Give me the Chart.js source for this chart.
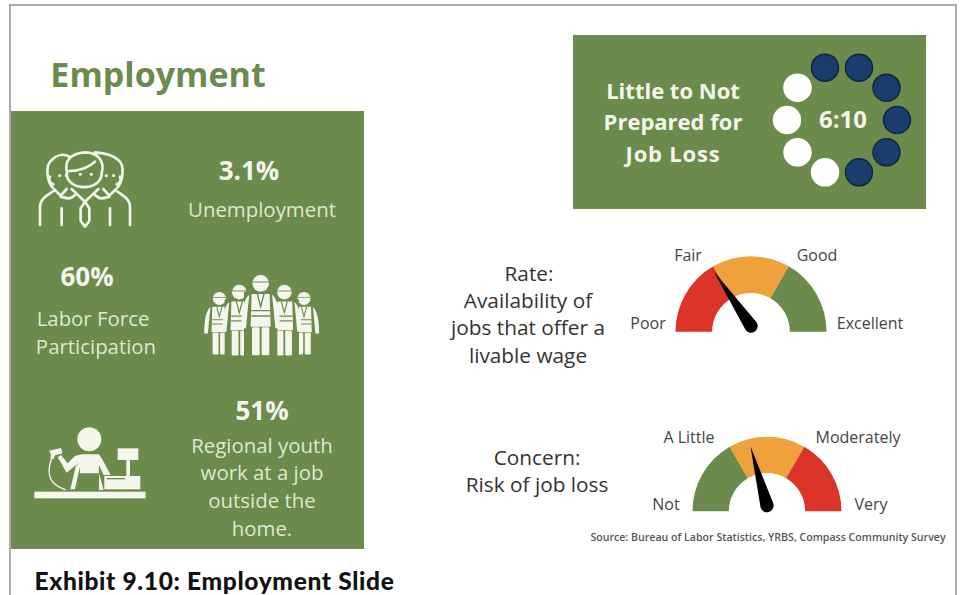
<!DOCTYPE html>
<html>
<head>
<meta charset="utf-8">
<title>Exhibit 9.10: Employment Slide</title>
<script src="https://cdn.jsdelivr.net/npm/chart.js@4/dist/chart.umd.min.js"></script>
<style>
  html, body { margin: 0; padding: 0; background: #fff; }
  #page { position: relative; width: 960px; height: 595px; overflow: hidden; font-family: "Open Sans", sans-serif; }
  #frame { position: absolute; left: 9px; top: 4px; width: 948px; height: 600px; border: 2px solid #aaa; box-sizing: border-box; }
  .panel { position: absolute; background: #6b8a4c; }
  canvas, svg { position: absolute; }
  .t { position: absolute; white-space: nowrap; transform: translate(-50%, -50%); line-height: 1; }
  .big { font-weight: 700; font-size: 26px; color: #f4f6ec; }
  .head { font-weight: 700; font-size: 22px; color: #f4f6ec; }
  .lite { font-size: 20.4px; color: #dfe7cf; margin-top: -1px; }
  .dark { font-size: 20.8px; color: #333; margin-top: -1px; }
  .lab { font-size: 16px; color: #444; }
</style>
</head>
<body>
<div id="page">
  <div id="frame"></div>
  <div class="panel" style="left:11px;top:111px;width:353px;height:438px"></div>
  <div class="panel" style="left:573px;top:35px;width:353px;height:174px"></div>

  <div class="t" style="left:158px;top:74px;font-size:34px;font-weight:700;color:#6b8a4c">Employment</div>

  <div class="t big" style="left:249px;top:170px">3.1%</div>
  <div class="t lite" style="left:262px;top:210px">Unemployment</div>
  <div class="t big" style="left:87px;top:276px">60%</div>
  <div class="t lite" style="left:93px;top:319px">Labor Force</div>
  <div class="t lite" style="left:96px;top:347px">Participation</div>
  <div class="t big" style="left:262px;top:410px">51%</div>
  <div class="t lite" style="left:262px;top:446px">Regional youth</div>
  <div class="t lite" style="left:262px;top:473px">work at a job</div>
  <div class="t lite" style="left:262px;top:501px">outside the</div>
  <div class="t lite" style="left:262px;top:529px">home.</div>

  <div class="t head" style="left:673px;top:90px">Little to Not</div>
  <div class="t head" style="left:673px;top:121px">Prepared for</div>
  <div class="t head" style="left:673px;top:153px;letter-spacing:0.8px">Job Loss</div>
  <div class="t head" style="left:843px;top:119px;font-size:24px">6:10</div>

  <div class="t dark" style="left:529px;top:274px">Rate:</div>
  <div class="t dark" style="left:528px;top:301px">Availability of</div>
  <div class="t dark" style="left:528px;top:328px">jobs that offer a</div>
  <div class="t dark" style="left:528px;top:356px">livable wage</div>
  <div class="t dark" style="left:537px;top:458px">Concern:</div>
  <div class="t dark" style="left:537px;top:485px">Risk of job loss</div>

  <div class="t lab" id="g1a" style="left:648px;top:323px"></div>
  <div class="t lab" id="g1b" style="left:688px;top:255px"></div>
  <div class="t lab" id="g1c" style="left:817px;top:255px"></div>
  <div class="t lab" id="g1d" style="left:870px;top:323px"></div>
  <div class="t lab" id="g2a" style="left:666px;top:504px"></div>
  <div class="t lab" id="g2b" style="left:689px;top:437px"></div>
  <div class="t lab" id="g2c" style="left:858px;top:437px"></div>
  <div class="t lab" id="g2d" style="left:871px;top:504px"></div>

  <div class="t" style="left:768px;top:537px;font-size:10.6px;font-weight:600;color:#555">Source: Bureau of Labor Statistics, YRBS, Compass Community Survey</div>
  <div class="t" style="left:214.5px;top:580.5px;font-family:Lato,sans-serif;font-size:24.5px;font-weight:900;letter-spacing:0.65px;color:#111">Exhibit 9.10: Employment Slide</div>

  <!-- icons, coordinates are the 3x crop of each icon -->
  <svg width="960" height="595" style="left:0;top:0">
    <g transform="translate(30,145) scale(0.3333)" fill="none" stroke="#f1f4e8" stroke-width="8" stroke-linecap="round" stroke-linejoin="round">
      <path d="M110 85 C110 140,215 140,215 85"/>
      <path d="M112 85 C100 45,125 25,165 22 C205 22,225 50,215 85"/>
      <path d="M118 78 C150 78,180 65,195 50"/>
      <path d="M70 130 C50 110,45 60,65 45 C80 30,100 25,118 35"/>
      <path d="M260 130 C280 110,285 60,265 45 C250 30,230 25,195 22"/>
      <path d="M60 95 C55 105,60 115,70 118"/>
      <path d="M270 95 C275 105,270 115,260 118"/>
      <path d="M30 240 V185 C30 160,55 150,75 135 L92 152 L110 132"/>
      <path d="M300 240 V185 C300 160,275 150,255 135 L238 152 L220 132"/>
      <path d="M95 240 V190"/>
      <path d="M240 240 V190"/>
      <path d="M125 132 L165 170 L205 132"/>
      <path d="M165 170 L152 190 V228 L165 245 L178 228 V190 Z"/>
      <path d="M92 155 C110 160,120 165,135 150"/>
      <path d="M238 155 C220 160,210 165,195 150"/>
      <path d="M150 88 h2 M183 88 h2 M88 92 h2 M108 92 h2 M228 92 h2 M250 92 h2"/>
    </g>
    <g transform="translate(200,270) scale(0.3333)" id="workers">
      <g transform="translate(58,62) scale(0.78)"><use href="#worker"/></g>
      <g transform="translate(312,62) scale(0.78)"><use href="#worker"/></g>
      <g transform="translate(118,40) scale(0.88)"><use href="#worker"/></g>
      <g transform="translate(253,40) scale(0.88)"><use href="#worker"/></g>
      <g transform="translate(182,10)"><use href="#worker"/></g>
    </g>
    <defs>
      <g id="worker">
        <rect x="-50" y="55" width="100" height="195" fill="#6b8a4c"/>
        <circle cx="0" cy="30" r="25" fill="#f5f7ef"/>
        <path d="M-25 26 H25" stroke="#6b8a4c" stroke-width="3"/>
        <path d="M-27 62 H27 L30 160 H-30 Z" fill="#f5f7ef"/>
        <path d="M-34 64 C-50 75,-58 110,-58 165 L-44 165 L-38 100 Z M34 64 C50 75,58 110,58 165 L44 165 L38 100 Z" fill="#f5f7ef"/>
        <rect x="-26" y="162" width="23" height="84" rx="4" fill="#f5f7ef"/>
        <rect x="3" y="162" width="23" height="84" rx="4" fill="#f5f7ef"/>
        <path d="M-28 112 H28 M-28 128 H28 M-10 62 L0 100 L10 62" stroke="#6b8a4c" stroke-width="4" fill="none"/>
      </g>
    </defs>
    <g transform="translate(25,420) scale(0.3333)" fill="#f5f7ef">
      <circle cx="193" cy="58" r="36"/>
      <path d="M170 103 H222 L233 120 L257 165 H236 L222 135 V160 H165 V140 L150 208 H136 L152 140 L160 130 L125 158 L98 112 L108 105 L128 130 L150 108 Z"/>
      <path d="M222 160 L236 210 H222 Z"/>
      <path d="M72 92 L108 84 L112 100 L90 106 L86 118 L76 114 L78 104 Z"/>
      <path d="M80 115 C60 170,80 195,122 210" fill="none" stroke="#f5f7ef" stroke-width="4"/>
      <rect x="28" y="215" width="334" height="20"/>
      <rect x="238" y="168" width="108" height="40"/>
      <rect x="278" y="85" width="62" height="35"/>
      <rect x="304" y="120" width="11" height="50"/>
      <path d="M245 176 H300" stroke="#6b8a4c" stroke-width="4"/>
    </g>
  </svg>

  <canvas id="dots" width="160" height="160" style="left:762px;top:40px"></canvas>
  <canvas id="gauge1" width="190" height="90" style="left:656px;top:254px"></canvas>
  <canvas id="gauge2" width="190" height="90" style="left:672px;top:434px"></canvas>
</div>

<script>
// little to not prepared, 6 of 10
var dotValues = [1, 1, 1, 1, 1, 1, 1, 1, 1, 1];
var dotNames = ['1', '2', '3', '4', '5', '6', '7', '8', '9', '10'];
var dotsFilled = 6;

// gauges, three equal bands, needle is the position on the 0-3 dial
var rateLabels = ['Poor', 'Fair', 'Good', 'Excellent'];
var rateBands = [1, 1, 1];
var rateNeedle = 0.93;
var concernLabels = ['Not', 'A Little', 'Moderately', 'Very'];
var concernBands = [1, 1, 1];
var concernNeedle = 1.24;

['a', 'b', 'c', 'd'].forEach(function (k, i) {
    document.getElementById('g1' + k).textContent = rateLabels[i];
    document.getElementById('g2' + k).textContent = concernLabels[i];
});

var RED = '#dc3428', ORANGE = '#f0a13c', GREEN = '#6b8a4c';

var needlePlugin = {
    id: 'needle',
    afterDatasetsDraw: function (chart, args, opts) {
        var arc = chart.getDatasetMeta(0).data[0];
        var total = chart.data.datasets[0].data.reduce(function (a, b) { return a + b; }, 0);
        var ang = Math.PI + Math.PI * opts.value / total;
        var px = arc.x, py = arc.y - 5.7;
        var c = chart.ctx;
        c.save();
        c.translate(px, py);
        c.rotate(ang);
        c.fillStyle = '#000';
        c.beginPath();
        c.arc(0, 0, 6.7, Math.PI / 2, Math.PI * 1.5);
        c.lineTo(opts.length, 0);
        c.closePath();
        c.fill();
        c.restore();
    }
};

function gauge(id, labels, bands, colors, radius, cutout, needle, length) {
    return new Chart(document.getElementById(id).getContext('2d'), {
        type: 'doughnut',
        data: {
            labels: labels.slice(0, 3),
            datasets: [{ data: bands, backgroundColor: colors, borderWidth: 0 }]
        },
        options: {
            responsive: false,
            animation: false,
            rotation: -90,
            circumference: 180,
            radius: radius,
            cutout: cutout,
            layout: { padding: { bottom: 10 } },
            plugins: {
                legend: { display: false },
                tooltip: { enabled: false },
                needle: { value: needle, length: length }
            }
        },
        plugins: [needlePlugin]
    });
}

gauge('gauge1', rateLabels, rateBands, [RED, ORANGE, GREEN], 75.5, '51.4%', rateNeedle, 66);
gauge('gauge2', concernLabels, concernBands, [GREEN, ORANGE, RED], 74.5, '51.3%', concernNeedle, 61.6);

var dotFill = dotValues.map(function (v, i) { return i < dotsFilled ? '#1b3d6d' : '#ffffff'; });
var dotEdge = dotValues.map(function (v, i) { return i < dotsFilled ? '#10253f' : '#ffffff'; });

new Chart(document.getElementById('dots').getContext('2d'), {
    type: 'radar',
    data: {
        labels: dotNames,
        datasets: [{
            data: dotValues,
            showLine: false,
            fill: false,
            pointRadius: 13.5,
            pointBorderWidth: 1.5,
            pointBackgroundColor: dotFill,
            pointBorderColor: dotEdge
        }]
    },
    options: {
        responsive: false,
        animation: false,
        layout: { padding: 25 },
        plugins: { legend: { display: false }, tooltip: { enabled: false } },
        scales: {
            r: {
                min: 0,
                max: 1,
                startAngle: -18,
                ticks: { display: false },
                grid: { display: false },
                angleLines: { display: false },
                pointLabels: { display: false }
            }
        }
    }
});
</script>
</body>
</html>
